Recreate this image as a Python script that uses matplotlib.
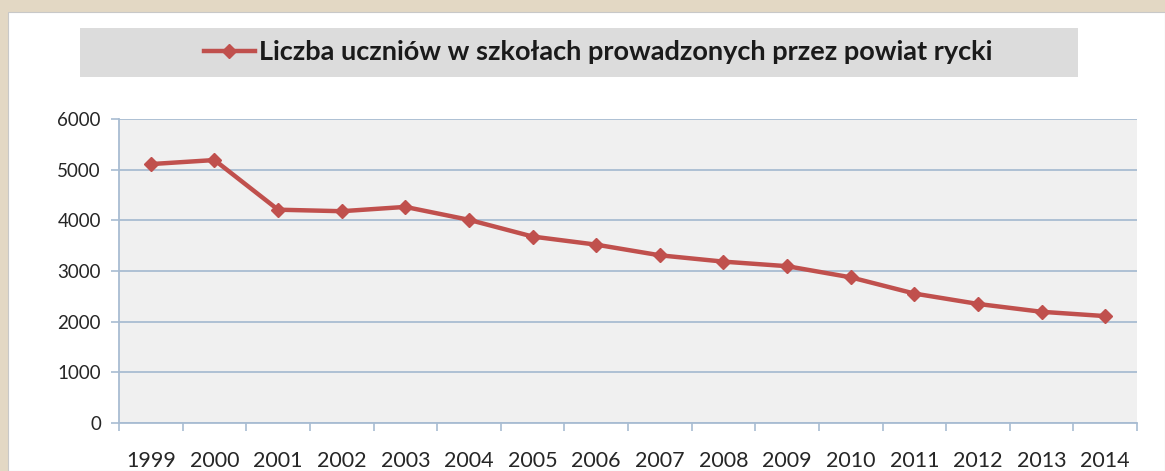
import matplotlib
matplotlib.use("Agg")
import matplotlib.pyplot as plt
from matplotlib.patches import Rectangle
from matplotlib.lines import Line2D

years = ["1999", "2000", "2001", "2002", "2003", "2004", "2005", "2006",
         "2007", "2008", "2009", "2010", "2011", "2012", "2013", "2014"]
students = [5110, 5190, 4210, 4180, 4265, 4010, 3680, 3520,
            3310, 3185, 3095, 2875, 2555, 2350, 2195, 2110]
series_label = "Liczba uczniów w szkołach prowadzonych przez powiat rycki"
yticks = [0, 1000, 2000, 3000, 4000, 5000, 6000]

plt.rcParams['font.family'] = ['Lato', 'DejaVu Sans']

W, H = 1165, 471
fig = plt.figure(figsize=(W / 100, H / 100), dpi=100)
fig.patch.set_facecolor('#e3d8c4')

# white chart panel
fig.patches.append(Rectangle((8 / W, 0), 1 - 8 / W, 1 - 12 / H,
                             transform=fig.transFigure, facecolor='white',
                             edgecolor='#c8c8c8', linewidth=0.8, zorder=-2))

# legend band
fig.patches.append(Rectangle((80 / W, 1 - 77 / H), 998 / W, 49 / H,
                             transform=fig.transFigure, facecolor='#dcdcdc',
                             edgecolor='none', zorder=-1))

ax = fig.add_axes([119 / W, 48 / H, 1018 / W, 304 / H])
ax.set_facecolor('#f0f0f0')

red = '#c0504d'
x = list(range(len(years)))
ax.plot(x, students, color=red, linewidth=3.2, marker='D', markersize=7.5,
        markeredgecolor=red, markerfacecolor=red, label=series_label, zorder=3)

ax.set_xlim(-0.5, len(years) - 0.5)
ax.set_ylim(0, 6000)
ax.set_yticks(yticks)
ax.set_yticklabels([str(v) for v in yticks])
ax.set_xticks(x)
ax.set_xticklabels(years)
ax.set_xticks([i - 0.5 for i in range(len(years) + 1)], minor=True)

grid_c = '#a8bcd2'
ax.yaxis.grid(True, color=grid_c, linewidth=1.3)
ax.set_axisbelow(True)
for s in ['top', 'right']:
    ax.spines[s].set_visible(False)
ax.spines['left'].set_color(grid_c)
ax.spines['bottom'].set_color(grid_c)
ax.spines['left'].set_linewidth(1.3)
ax.spines['bottom'].set_linewidth(1.3)

ax.tick_params(axis='x', which='major', length=0, pad=20, labelsize=15.5,
               labelcolor='#262626')
ax.tick_params(axis='x', which='minor', length=6, width=1.2, color=grid_c)
ax.tick_params(axis='y', length=6, width=1.2, color=grid_c, pad=7,
               labelsize=13.5, labelcolor='#262626')

handle = Line2D([], [], color=red, linewidth=3.2, marker='D', markersize=7.5,
                markeredgecolor=red, markerfacecolor=red)
fig.legend([handle], [series_label], loc='center',
           bbox_to_anchor=(598 / W, 1 - 52 / H), frameon=False,
           prop={'size': 19.5, 'weight': 'bold'}, handlelength=1.9,
           handletextpad=0.15, labelcolor='#1a1a1a')

fig.savefig('out.png', dpi=100)
